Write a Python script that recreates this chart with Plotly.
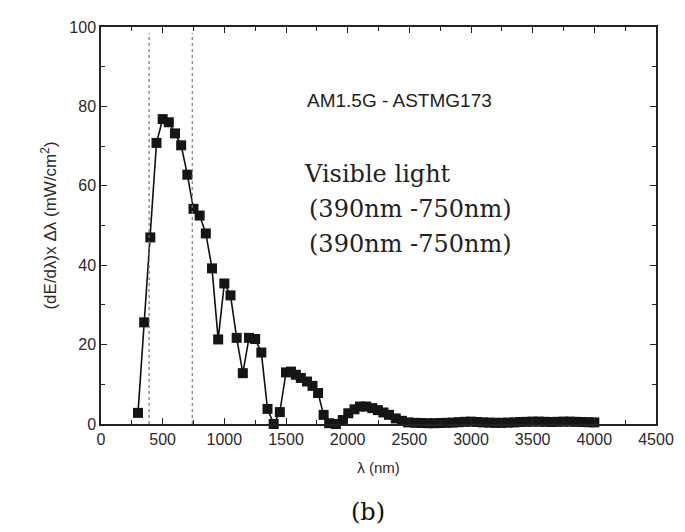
import plotly.graph_objects as go

wavelength_nm = [300, 350, 400, 450, 500, 550, 600, 650, 700, 750, 800, 850, 900, 950,
                 1000, 1050, 1100, 1150, 1200, 1250, 1300, 1350, 1400, 1450, 1500,
                 1540, 1580, 1620, 1670, 1715, 1760, 1805, 1850, 1905, 1960, 2005,
                 2055, 2100, 2150, 2200, 2245, 2290, 2335, 2390, 2440, 2490,
                 2550, 2600, 2650, 2700, 2750, 2800, 2850, 2900, 2950, 3000, 3050,
                 3100, 3150, 3200, 3250, 3300, 3350, 3400, 3450, 3500, 3550, 3600,
                 3650, 3700, 3750, 3800, 3850, 3900, 3950, 4000]
power_mw_cm2 = [2.8, 25.6, 47.0, 70.8, 76.8, 76.0, 73.2, 70.2, 62.8, 54.2, 52.5, 48.0,
                39.2, 21.3, 35.4, 32.4, 21.7, 12.8, 21.7, 21.4, 18.0, 3.8, 0.0, 3.0,
                13.0, 13.2, 12.4, 11.6, 10.7, 9.6, 7.8, 2.3, 0.2, 0.0, 1.0, 2.7,
                3.7, 4.4, 4.4, 4.0, 3.5, 2.9, 2.3, 1.4, 0.8, 0.4,
                0.3, 0.25, 0.2, 0.2, 0.25, 0.3, 0.35, 0.45, 0.55, 0.6, 0.5,
                0.4, 0.35, 0.3, 0.3, 0.35, 0.4, 0.5, 0.55, 0.6, 0.6, 0.55,
                0.5, 0.55, 0.6, 0.6, 0.55, 0.5, 0.45, 0.4]
visible_bounds_nm = [390, 740]
x_ticks = [0, 500, 1000, 1500, 2000, 2500, 3000, 3500, 4000, 4500]
y_ticks = [0, 20, 40, 60, 80, 100]

fig = go.Figure()
fig.add_trace(go.Scatter(
    x=wavelength_nm, y=power_mw_cm2, mode="lines+markers",
    line=dict(color="#111111", width=1.6),
    marker=dict(symbol="square", size=10, color="#151515",
                line=dict(color="#151515", width=0)),
    cliponaxis=False, showlegend=False))

for xv in visible_bounds_nm:
    fig.add_shape(type="line", x0=xv, x1=xv, y0=0, y1=98.5, xref="x", yref="y",
                  line=dict(color="#777777", width=1.2, dash="dot"))

tick_font = dict(family="Liberation Sans, Arial, sans-serif", size=16, color="#2a2a2a")
axis_common = dict(showline=True, linecolor="#222222", linewidth=1.5, mirror="ticks",
                   ticks="inside", ticklen=6, tickwidth=1.2, tickcolor="#222222",
                   showgrid=False, zeroline=False, tickfont=tick_font)

fig.update_xaxes(range=[0, 4500], tickvals=x_ticks,
                 minor=dict(dtick=250, ticks="inside", ticklen=4, tickcolor="#222222"),
                 title=dict(text="λ (nm)", font=dict(family="Liberation Sans, Arial, sans-serif",
                                                     size=15, color="#2a2a2a"), standoff=16),
                 **axis_common)
fig.update_yaxes(range=[0, 100], tickvals=y_ticks,
                 minor=dict(dtick=10, ticks="inside", ticklen=4, tickcolor="#222222"),
                 title=dict(text="(dE/dλ)x Δλ (mW/cm<sup>2</sup>)",
                            font=dict(family="Liberation Sans, Arial, sans-serif",
                                      size=17, color="#2a2a2a"), standoff=8),
                 **axis_common)

serif = "DejaVu Serif, serif"
fig.add_annotation(x=1650, y=81.4, xref="x", yref="y", xanchor="left", yanchor="middle",
                   text="AM1.5G - ASTMG173", showarrow=False,
                   font=dict(family="Liberation Sans, Arial, sans-serif", size=19, color="#222222"))
fig.add_annotation(x=1630, y=63.0, xref="x", yref="y", xanchor="left", yanchor="middle",
                   text="Visible light", showarrow=False,
                   font=dict(family=serif, size=24, color="#222222"))
fig.add_annotation(x=1670, y=54.2, xref="x", yref="y", xanchor="left", yanchor="middle",
                   text="(390nm -750nm)", showarrow=False,
                   font=dict(family=serif, size=24, color="#222222"))
fig.add_annotation(x=1670, y=45.3, xref="x", yref="y", xanchor="left", yanchor="middle",
                   text="(390nm -750nm)", showarrow=False,
                   font=dict(family=serif, size=24, color="#222222"))
fig.add_annotation(x=0.481, y=-0.222, xref="paper", yref="paper", xanchor="center",
                   yanchor="middle", text="(b)", showarrow=False,
                   font=dict(family=serif, size=24, color="#111111"))

fig.update_layout(width=685, height=532, margin=dict(l=101, r=29, t=27, b=108),
                  paper_bgcolor="white", plot_bgcolor="white")

fig.write_html("out.html")
